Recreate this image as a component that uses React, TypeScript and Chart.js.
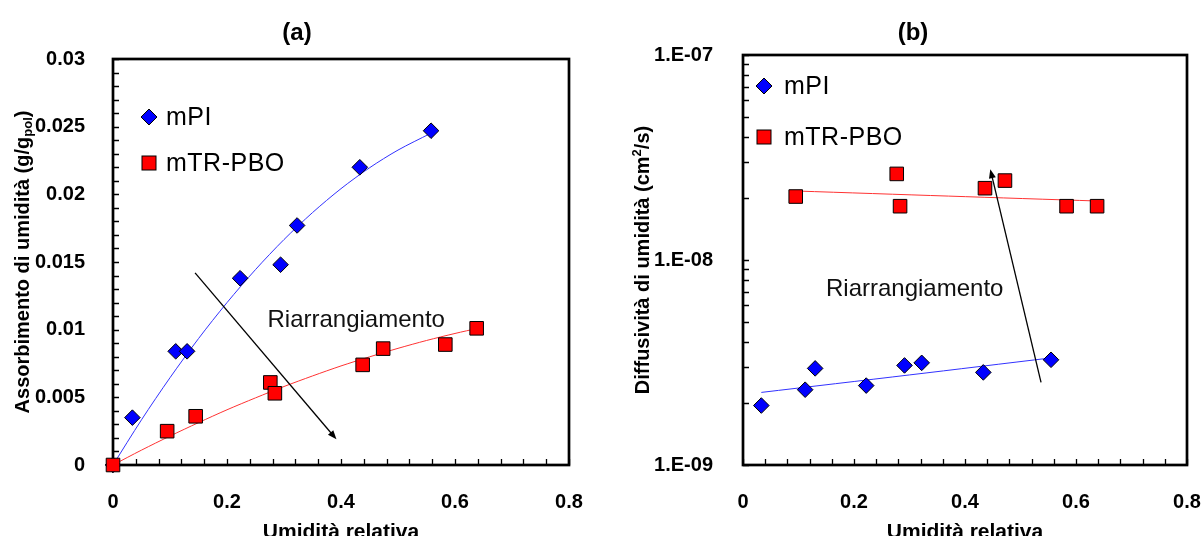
import React, { useEffect, useRef } from 'react';
import { Chart, registerables } from 'chart.js';

Chart.register(...registerables);

const FONT = '"Liberation Sans", Arial, Helvetica, sans-serif';

// ---------- Panel (a): moisture uptake ----------
const aTitle = '(a)';
const aXTicks = [0, 0.2, 0.4, 0.6, 0.8];
const aYTicks = [0, 0.005, 0.01, 0.015, 0.02, 0.025, 0.03];
const aMpiX = [0, 0.034, 0.11, 0.13, 0.223, 0.294, 0.323, 0.433, 0.558];
const aMpiY = [0, 0.0035, 0.0084, 0.0084, 0.0138, 0.0148, 0.0177, 0.022, 0.0247];
const aPboX = [0, 0.095, 0.145, 0.276, 0.284, 0.438, 0.474, 0.583, 0.638];
const aPboY = [0, 0.0025, 0.0036, 0.0061, 0.0053, 0.0074, 0.0086, 0.0089, 0.0101];
const aMpiFitX = [0, 0.05, 0.1, 0.15, 0.2, 0.25, 0.3, 0.35, 0.4, 0.45, 0.5, 0.557];
const aMpiFitY = [0, 0.00334, 0.00645, 0.00934, 0.012, 0.01444, 0.01666, 0.01865, 0.02042, 0.02196, 0.02327, 0.0245];
const aPboFitX = [0, 0.05, 0.1, 0.15, 0.2, 0.25, 0.3, 0.35, 0.4, 0.45, 0.5, 0.55, 0.6, 0.64];
const aPboFitY = [0, 0.0011, 0.00214, 0.00313, 0.00408, 0.00496, 0.0058, 0.00658, 0.00732, 0.00799, 0.00862, 0.0092, 0.00972, 0.0101];
const aArrow = [0.144, 0.0142, 0.392, 0.0019];
const aNote = [0.271, 0.01066];

// ---------- Panel (b): moisture diffusivity ----------
const bTitle = '(b)';
const bXTicks = [0, 0.2, 0.4, 0.6, 0.8];
const bYTicks = [1e-9, 1e-8, 1e-7];
const bMpiX = [0.033, 0.112, 0.13, 0.222, 0.291, 0.322, 0.433, 0.555];
const bMpiY = [1.95e-9, 2.33e-9, 2.96e-9, 2.44e-9, 3.06e-9, 3.15e-9, 2.83e-9, 3.26e-9];
const bPboX = [0.095, 0.277, 0.283, 0.436, 0.472, 0.583, 0.638];
const bPboY = [2.04e-8, 2.63e-8, 1.83e-8, 2.24e-8, 2.44e-8, 1.83e-8, 1.83e-8];
const bMpiFitX = [0.033, 0.3, 0.555];
const bMpiFitY = [2.26e-9, 2.75e-9, 3.33e-9];
const bPboFitX = [0.097, 0.37, 0.638];
const bPboFitY = [2.17e-8, 2.05e-8, 1.94e-8];
const bArrow = [0.537, 2.53e-9, 0.4456, 2.77e-8];
const bNote = [0.1495, 7.22e-9];

const seriesNames = ['mPI', 'mTR-PBO'];
const noteText = 'Riarrangiamento';
const xTitle = 'Umidità relativa';

const BLUE = '#0000FF';
const RED = '#FF0000';

const pts = (xs: number[], ys: number[]) => xs.map((x, i) => ({ x, y: ys[i] }));

type PanelCfg = {
  title: string;
  titleX: number;
  titleY: number;
  yTitleParts: { t: string; mode: 'n' | 'sub' | 'sup' }[];
  yTitleX: number;
  xMajor: number[];
  yMajor: number[];
  xMinor: number[];
  yMinor: number[];
  legendX: number;
  legendY: number[];
  textX: number;
  arrow: number[];
  note: number[];
};

function diamond(ctx: CanvasRenderingContext2D, x: number, y: number, r: number) {
  ctx.beginPath();
  ctx.moveTo(x - r, y);
  ctx.lineTo(x, y - r);
  ctx.lineTo(x + r, y);
  ctx.lineTo(x, y + r);
  ctx.closePath();
  ctx.fillStyle = BLUE;
  ctx.fill();
  ctx.strokeStyle = '#000';
  ctx.lineWidth = 1;
  ctx.stroke();
}

function square(ctx: CanvasRenderingContext2D, x: number, y: number, h: number) {
  ctx.fillStyle = RED;
  ctx.fillRect(x - h, y - h, 2 * h, 2 * h);
  ctx.strokeStyle = '#000';
  ctx.lineWidth = 1;
  ctx.strokeRect(x - h, y - h, 2 * h, 2 * h);
}

function makeDecor(cfg: PanelCfg) {
  return {
    id: 'decor',
    beforeDatasetsDraw(chart: any) {
      const { ctx, chartArea: a, scales } = chart;
      const xs = scales.x;
      const ys = scales.y;
      ctx.save();
      ctx.strokeStyle = '#000';
      ctx.lineWidth = 1.3;
      ctx.beginPath();
      for (const v of cfg.xMajor.concat(cfg.xMinor)) {
        const px = Math.round(xs.getPixelForValue(v)) + 0.5;
        ctx.moveTo(px, a.bottom);
        ctx.lineTo(px, a.bottom - 6);
      }
      for (const v of cfg.yMajor.concat(cfg.yMinor)) {
        const py = Math.round(ys.getPixelForValue(v)) + 0.5;
        ctx.moveTo(a.left, py);
        ctx.lineTo(a.left + 6, py);
      }
      ctx.stroke();
      ctx.lineWidth = 2.7;
      ctx.strokeRect(a.left, a.top, a.right - a.left, a.bottom - a.top);

      // chart title
      ctx.fillStyle = '#000';
      ctx.font = `bold 24px ${FONT}`;
      ctx.textAlign = 'center';
      ctx.textBaseline = 'middle';
      ctx.fillText(cfg.title, cfg.titleX, cfg.titleY);

      // x axis title
      ctx.font = `bold 21px ${FONT}`;
      ctx.textBaseline = 'alphabetic';
      ctx.fillText(xTitle, (a.left + a.right) / 2, 538);

      // y axis title (rotated, with sub/superscript)
      const main = `bold 20px ${FONT}`;
      const small = `bold 13px ${FONT}`;
      let total = 0;
      for (const p of cfg.yTitleParts) {
        ctx.font = p.mode === 'n' ? main : small;
        total += ctx.measureText(p.t).width;
      }
      ctx.translate(cfg.yTitleX, (a.top + a.bottom) / 2);
      ctx.rotate(-Math.PI / 2);
      ctx.textAlign = 'left';
      ctx.textBaseline = 'middle';
      let cx = -total / 2;
      for (const p of cfg.yTitleParts) {
        ctx.font = p.mode === 'n' ? main : small;
        const dy = p.mode === 'sub' ? 5 : p.mode === 'sup' ? -6 : 0;
        ctx.fillText(p.t, cx, dy);
        cx += ctx.measureText(p.t).width;
      }
      ctx.restore();
    },
    afterDatasetsDraw(chart: any) {
      const { ctx, scales } = chart;
      const xs = scales.x;
      const ys = scales.y;
      ctx.save();
      // legend
      diamond(ctx, cfg.legendX, cfg.legendY[0], 8);
      square(ctx, cfg.legendX, cfg.legendY[1], 7);
      ctx.fillStyle = '#000';
      ctx.font = `25px ${FONT}`;
      ctx.textAlign = 'left';
      ctx.textBaseline = 'middle';
      (ctx as any).letterSpacing = '0.5px';
      ctx.fillText(chart.data.datasets[0].label, cfg.textX, cfg.legendY[0] + 1);
      ctx.fillText(chart.data.datasets[1].label, cfg.textX, cfg.legendY[1] + 1);
      (ctx as any).letterSpacing = '0px';
      // note
      ctx.font = `24px ${FONT}`;
      ctx.fillStyle = '#111';
      ctx.fillText(noteText, xs.getPixelForValue(cfg.note[0]), ys.getPixelForValue(cfg.note[1]));
      // arrow
      const x0 = xs.getPixelForValue(cfg.arrow[0]);
      const y0 = ys.getPixelForValue(cfg.arrow[1]);
      const x1 = xs.getPixelForValue(cfg.arrow[2]);
      const y1 = ys.getPixelForValue(cfg.arrow[3]);
      const ang = Math.atan2(y1 - y0, x1 - x0);
      ctx.strokeStyle = '#000';
      ctx.lineWidth = 1.3;
      ctx.beginPath();
      ctx.moveTo(x0, y0);
      ctx.lineTo(x1 - 6 * Math.cos(ang), y1 - 6 * Math.sin(ang));
      ctx.stroke();
      ctx.fillStyle = '#000';
      ctx.beginPath();
      ctx.moveTo(x1, y1);
      ctx.lineTo(x1 - 9 * Math.cos(ang) + 3.5 * Math.sin(ang), y1 - 9 * Math.sin(ang) - 3.5 * Math.cos(ang));
      ctx.lineTo(x1 - 9 * Math.cos(ang) - 3.5 * Math.sin(ang), y1 - 9 * Math.sin(ang) + 3.5 * Math.cos(ang));
      ctx.closePath();
      ctx.fill();
      ctx.restore();
    },
  };
}

function buildDatasets(mx: number[], my: number[], px: number[], py: number[], fmx: number[], fmy: number[], fpx: number[], fpy: number[]) {
  return [
    {
      label: seriesNames[0],
      data: pts(mx, my),
      pointStyle: 'rectRot',
      pointRadius: 7.8,
      backgroundColor: BLUE,
      borderColor: '#000',
      borderWidth: 1,
      clip: false,
      order: 1,
    },
    {
      label: seriesNames[1],
      data: pts(px, py),
      pointStyle: 'rect',
      pointRadius: 9.6,
      backgroundColor: RED,
      borderColor: '#000',
      borderWidth: 1,
      clip: false,
      order: 0,
    },
    {
      label: 'fit mPI',
      data: pts(fmx, fmy),
      showLine: true,
      pointRadius: 0,
      borderColor: 'rgb(50,50,255)',
      borderWidth: 1,
      tension: 0.3,
      order: 3,
    },
    {
      label: 'fit mTR-PBO',
      data: pts(fpx, fpy),
      showLine: true,
      pointRadius: 0,
      borderColor: 'rgb(255,50,50)',
      borderWidth: 1,
      tension: 0.3,
      order: 2,
    },
  ];
}

const tickFont = { family: FONT, size: 20, weight: 'bold' as const };

const fixX = (s: any) => { s.height = 71; s.paddingLeft = 0; s.paddingRight = 0; s.paddingTop = 0; s.paddingBottom = 0; };
const fixY = (w: number) => (s: any) => { s.width = w; s.paddingTop = 0; s.paddingBottom = 0; s.paddingLeft = 0; s.paddingRight = 0; };

function ChartA() {
  const ref = useRef<HTMLCanvasElement>(null);
  useEffect(() => {
    const minorX: number[] = [];
    for (let i = 0; i < aXTicks.length - 1; i++) for (let k = 1; k < 5; k++) minorX.push(aXTicks[i] + (k * (aXTicks[i + 1] - aXTicks[i])) / 5);
    const minorY: number[] = [];
    for (let i = 0; i < aYTicks.length - 1; i++) for (let k = 1; k < 5; k++) minorY.push(aYTicks[i] + (k * (aYTicks[i + 1] - aYTicks[i])) / 5);
    const cfg: PanelCfg = {
      title: aTitle,
      titleX: 297,
      titleY: 33,
      yTitleParts: [
        { t: 'Assorbimento di umidità (g/g', mode: 'n' },
        { t: 'pol', mode: 'sub' },
        { t: ')', mode: 'n' },
      ],
      yTitleX: 23,
      xMajor: aXTicks,
      yMajor: aYTicks,
      xMinor: minorX,
      yMinor: minorY,
      legendX: 149,
      legendY: [117, 163],
      textX: 166,
      arrow: aArrow,
      note: aNote,
    };
    const chart = new Chart(ref.current!, {
      type: 'scatter',
      data: { datasets: buildDatasets(aMpiX, aMpiY, aPboX, aPboY, aMpiFitX, aMpiFitY, aPboFitX, aPboFitY) as any },
      options: {
        animation: false,
        responsive: false,
        devicePixelRatio: 1,
        layout: { padding: { left: 0, top: 59, right: 31, bottom: 0 } },
        plugins: { legend: { display: false }, tooltip: { enabled: false }, title: { display: false } },
        scales: {
          x: {
            type: 'linear',
            min: 0,
            max: 0.8,
            grid: { display: false },
            border: { display: false },
            afterBuildTicks: (s: any) => { s.ticks = aXTicks.map((v) => ({ value: v })); },
            afterFit: fixX,
            ticks: { color: '#000', font: tickFont, padding: 17, callback: (v: any) => String(v) },
          },
          y: {
            type: 'linear',
            min: 0,
            max: 0.03,
            grid: { display: false },
            border: { display: false },
            afterBuildTicks: (s: any) => { s.ticks = aYTicks.map((v) => ({ value: v })); },
            afterFit: fixY(113),
            ticks: { color: '#000', font: tickFont, padding: 20, callback: (v: any) => String(Number(Number(v).toFixed(4))) },
          },
        },
      },
      plugins: [makeDecor(cfg)],
    });
    return () => chart.destroy();
  }, []);
  return <canvas ref={ref} width={600} height={536} style={{ position: 'absolute', left: 0, top: 0 }} />;
}

function ChartB() {
  const ref = useRef<HTMLCanvasElement>(null);
  useEffect(() => {
    const minorX: number[] = [];
    for (let i = 0; i < bXTicks.length - 1; i++) for (let k = 1; k < 5; k++) minorX.push(bXTicks[i] + (k * (bXTicks[i + 1] - bXTicks[i])) / 5);
    const minorY: number[] = [];
    for (let i = 0; i < bYTicks.length - 1; i++) for (let k = 2; k < 10; k++) minorY.push(bYTicks[i] * k);
    const cfg: PanelCfg = {
      title: bTitle,
      titleX: 313,
      titleY: 33,
      yTitleParts: [
        { t: 'Diffusività di umidità (cm', mode: 'n' },
        { t: '2', mode: 'sup' },
        { t: '/s)', mode: 'n' },
      ],
      yTitleX: 43,
      xMajor: bXTicks,
      yMajor: bYTicks,
      xMinor: minorX,
      yMinor: minorY,
      legendX: 164,
      legendY: [86, 137],
      textX: 184,
      arrow: bArrow,
      note: bNote,
    };
    const chart = new Chart(ref.current!, {
      type: 'scatter',
      data: { datasets: buildDatasets(bMpiX, bMpiY, bPboX, bPboY, bMpiFitX, bMpiFitY, bPboFitX, bPboFitY) as any },
      options: {
        animation: false,
        responsive: false,
        devicePixelRatio: 1,
        layout: { padding: { left: 0, top: 55, right: 16, bottom: 0 } },
        plugins: { legend: { display: false }, tooltip: { enabled: false }, title: { display: false } },
        scales: {
          x: {
            type: 'linear',
            min: 0,
            max: 0.8,
            grid: { display: false },
            border: { display: false },
            afterBuildTicks: (s: any) => { s.ticks = bXTicks.map((v) => ({ value: v })); },
            afterFit: fixX,
            ticks: { color: '#000', font: tickFont, padding: 17, callback: (v: any) => String(v) },
          },
          y: {
            type: 'logarithmic',
            min: 1e-9,
            max: 1e-7,
            grid: { display: false },
            border: { display: false },
            afterBuildTicks: (s: any) => { s.ticks = bYTicks.map((v) => ({ value: v })); },
            afterFit: fixY(143),
            ticks: {
              color: '#000',
              font: tickFont,
              padding: 22,
              callback: (v: any) => {
                const e = Math.round(Math.log10(Number(v)));
                return '1.E' + (e < 0 ? '-' : '+') + String(Math.abs(e)).padStart(2, '0');
              },
            },
          },
        },
      },
      plugins: [makeDecor(cfg)],
    });
    return () => chart.destroy();
  }, []);
  return <canvas ref={ref} width={603} height={536} style={{ position: 'absolute', left: 600, top: 0 }} />;
}

export default function App() {
  return (
    <div style={{ position: 'absolute', left: 0, top: 0, width: 1203, height: 536, background: '#fff', overflow: 'hidden' }}>
      <ChartA />
      <ChartB />
    </div>
  );
}
